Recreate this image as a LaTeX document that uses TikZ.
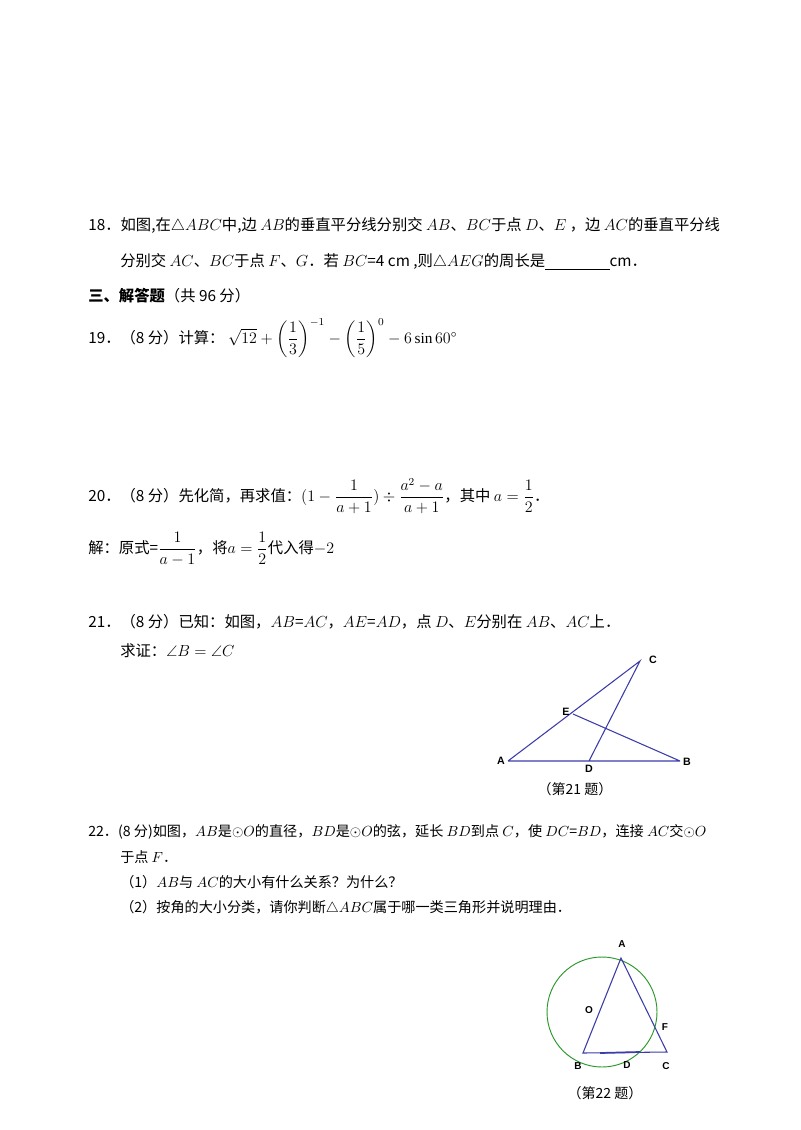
\documentclass[tikz,border=0pt]{standalone}
\usepackage{amsmath,amssymb}
\usepackage{fontspec}
\setmainfont{Liberation Serif}
\newfontfamily\cjk{Noto Sans CJK SC}
\newfontfamily\lab{Liberation Sans}
\begin{document}
\begin{tikzpicture}[x=0.75pt,y=-0.75pt,
  t/.style={anchor=west,inner sep=0pt,font=\cjk\fontsize{11.5}{14}\selectfont},
  ts/.style={anchor=west,inner sep=0pt,font=\cjk\fontsize{10.6}{13}\selectfont},
  pl/.style={font=\lab\bfseries\fontsize{8}{9}\selectfont,inner sep=1pt},
  pls/.style={font=\lab\bfseries\fontsize{7.5}{9}\selectfont,inner sep=1pt},
  figcap/.style={font=\cjk\fontsize{10.5}{12}\selectfont},
  seg/.style={draw={rgb,255:red,60;green,60;blue,170},line width=0.8pt}]
\useasboundingbox (0,0) rectangle (800,1130);
\node[t] (q18a) at (88,226) {18．如图,在$\triangle ABC$中,边 $AB$的垂直平分线分别交 $AB$、$BC$于点 $D$、$E$ ，边 $AC$的垂直平分线};
\node[t] (q18b) at (120,262) {分别交 $AC$、$BC$于点 $F$、$G$．若 $BC$=4 cm ,则$\triangle AEG$的周长是\underline{\hspace{4.2em}}cm．};
\node[t] (h3) at (88,296) {\textbf{三、解答题}（共 96 分）};
\node[t] (q19) at (88,338) {19．（8 分）计算：\ $\sqrt{12}+\left(\dfrac13\right)^{-1}-\left(\dfrac15\right)^{0}-6\sin 60^\circ$};
\node[t] (q20) at (88,496) {20．（8 分）先化简，再求值：$(1-\dfrac{1}{a+1})\div\dfrac{a^2-a}{a+1}$，其中 $a=\dfrac12$．};
\node[t] (sol) at (88,549) {解：原式=$\dfrac{1}{a-1}$，将$a=\dfrac12$代入得$-2$};
\node[t] (q21) at (88,622) {21．（8 分）已知：如图，$AB$=$AC$，$AE$=$AD$，点 $D$、$E$分别在 $AB$、$AC$上．};
\node[t] (q21b) at (120,651) {求证：$\angle B=\angle C$};
\node[ts] (q22) at (88,832) {22．(8 分)如图，$AB$是$\odot O$的直径，$BD$是$\odot O$的弦，延长 $BD$到点 $C$，使 $DC$=$BD$，连接 $AC$交$\odot O$};
\node[ts] (q22a) at (120,857) {于点 $F$．};
\node[ts] (q22b) at (120,882) {（1）$AB$与 $AC$的大小有什么关系？为什么？};
\node[ts] (q22c) at (120,908) {（2）按角的大小分类，请你判断$\triangle ABC$属于哪一类三角形并说明理由．};
% figure 21
\coordinate (A) at (508,761); \coordinate (B) at (680,761);
\coordinate (C) at (640,661); \coordinate (E) at (573,714); \coordinate (D) at (589,761);
\draw[seg] (A) -- (B) (A) -- (C) -- (D) (E) -- (B);
\node[pl] (lA) at (501,761) {A};
\node[pl] (lB) at (687,762) {B};
\node[pl] (lC) at (653,660) {C};
\node[pl] (lE) at (566,712) {E};
\node[pl] (lD) at (589,769) {D};
\node[figcap] (c21) at (575,789) {（第21 题）};
% figure 22
\coordinate (O) at (602,1012);
\draw[draw={rgb,255:red,40;green,150;blue,40},line width=0.7pt] (O) circle (55);
\coordinate (A2) at (621,958); \coordinate (B2) at (583,1053);
\coordinate (C2) at (667,1052); \coordinate (D2) at (625,1053);
\draw[seg] (A2) -- (B2) -- (C2) -- cycle;
\draw[seg,line width=1.3pt] (600,1053) -- (640,1052);
\node[pls] (lA2) at (622,944) {A};
\node[pls] (lB2) at (578,1066) {B};
\node[pls] (lC2) at (666,1066) {C};
\node[pls] (lD2) at (627,1065) {D};
\node[pls] (lF2) at (665,1027) {F};
\node[pls] (lO2) at (589,1010) {O};
\node[figcap] (c22) at (605,1093) {（第22 题）};
\end{tikzpicture}
\end{document}
